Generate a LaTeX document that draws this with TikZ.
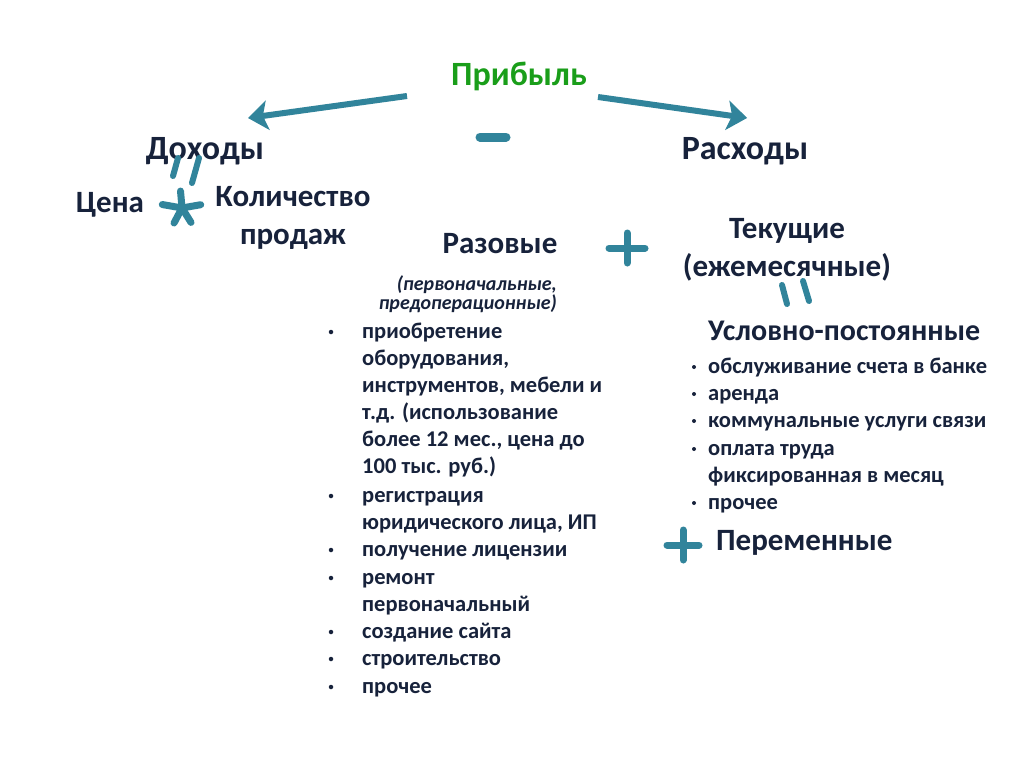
\documentclass[tikz,border=0pt]{standalone}
\usepackage{fontspec}
\setmainfont{Carlito}
\usetikzlibrary{arrows.meta}
\definecolor{ink}{HTML}{17223B}
\definecolor{teal}{HTML}{31849B}
\definecolor{leaf}{HTML}{1A9E1A}
\tikzset{
  head/.style={anchor=base,inner sep=0pt,text=ink,font=\bfseries\fontsize{34}{40}\selectfont},
  sub/.style={anchor=base,inner sep=0pt,text=ink,font=\bfseries\fontsize{31}{36}\selectfont},
  item/.style={anchor=base west,inner sep=0pt,text=ink,font=\bfseries\fontsize{22.5}{27}\selectfont},
  dot/.style={circle,fill=ink,inner sep=0pt,minimum size=4.5pt},
  sym/.style={teal,line width=7pt,line cap=round},
  arr/.style={teal,line width=6pt,line join=round,arrows={-Stealth[length=20pt,width=30pt,inset=5pt,line width=1pt]}}
}
\begin{document}
\begin{tikzpicture}[x=1pt,y=-1pt]
\useasboundingbox[fill=white] (0,0) rectangle (1024,768);
% top
\node[head,text=leaf] (prib) at (519,85) {Прибыль};
\node[head] (doh) at (205,159) {Доходы};
\node[head] (rash) at (745,159) {Расходы};
\coordinate (la) at (407,96); \coordinate (lb) at (248,118);
\coordinate (ra) at (598,97); \coordinate (rb) at (747,118);
\draw[arr] (la) -- (lb);
\draw[arr] (ra) -- (rb);
\draw[sym,line width=9pt] (480,137) -- (506,137);
% income
\draw[sym,line width=6pt] (178,158) -- (173,176);
\draw[sym,line width=6pt] (199,158) -- (192,183);
\coordinate (ast) at (182,208);
\foreach \a/\r in {95/17,170/20,10/19,-118/17,-58/17}
  \draw[sym] (ast) -- ++(\a:\r pt);
\node[sub] (cena) at (110,212) {Цена};
\node[sub] (kol) at (293,206) {Количество};
\node[sub] (prod) at (293,244) {продаж};
% one-off
\node[sub] (raz) at (500,253) {Разовые};
\node[anchor=base east,inner sep=0pt,text=ink,font=\bfseries\itshape\fontsize{20}{21}\selectfont] (pv1) at (557,290) {(первоначальные,};
\node[anchor=base east,inner sep=0pt,text=ink,font=\bfseries\itshape\fontsize{20}{21}\selectfont] (pv2) at (557,309) {предоперационные)};
\draw[sym] (627,233) -- (627,263);
\draw[sym] (609,248) -- (645,248);
\foreach \i/\y/\t in {1/338/приобретение, 2/365/{оборудования,}, 3/392/{инструментов, мебели и},
  4/419/{т.д. (использование}, 5/446/{более 12 мес., цена до}, 6/473/{100 тыс. руб.)},
  7/502/регистрация, 8/529/{юридического лица, ИП}, 9/556/получение лицензии,
  10/584/ремонт, 11/611/первоначальный, 12/638/создание сайта, 13/665/строительство, 14/693/прочее}
  \node[item] (l\i) at (362,\y) {\t};
\foreach \y in {332,496,550,578,632,659,687}
  \node[dot] at (331,\y) {};
% current
\node[sub] (tek) at (787,238) {Текущие};
\node[sub] (mes) at (787,276) {(ежемесячные)};
\draw[sym,line width=6pt] (782,285) -- (787,304);
\draw[sym,line width=6pt] (803,281) -- (809,301);
\node[sub,anchor=base west,font=\bfseries\fontsize{30}{36}\selectfont] (usl) at (708,340) {Условно-постоянные};
\foreach \i/\y/\t in {1/373/{обслуживание счета в банке}, 2/400/аренда, 3/427/{коммунальные услуги связи},
  4/455/{оплата труда}, 5/482/{фиксированная в месяц}, 6/509/прочее}
  \node[item] (r\i) at (708,\y) {\t};
\foreach \y in {367,394,421,449,503}
  \node[dot,minimum size=4pt] at (694,\y) {};
\draw[sym] (683,530) -- (683,560);
\draw[sym] (667,545) -- (699,545);
\node[sub,anchor=base west] (per) at (716,550) {Переменные};
\end{tikzpicture}
\end{document}
